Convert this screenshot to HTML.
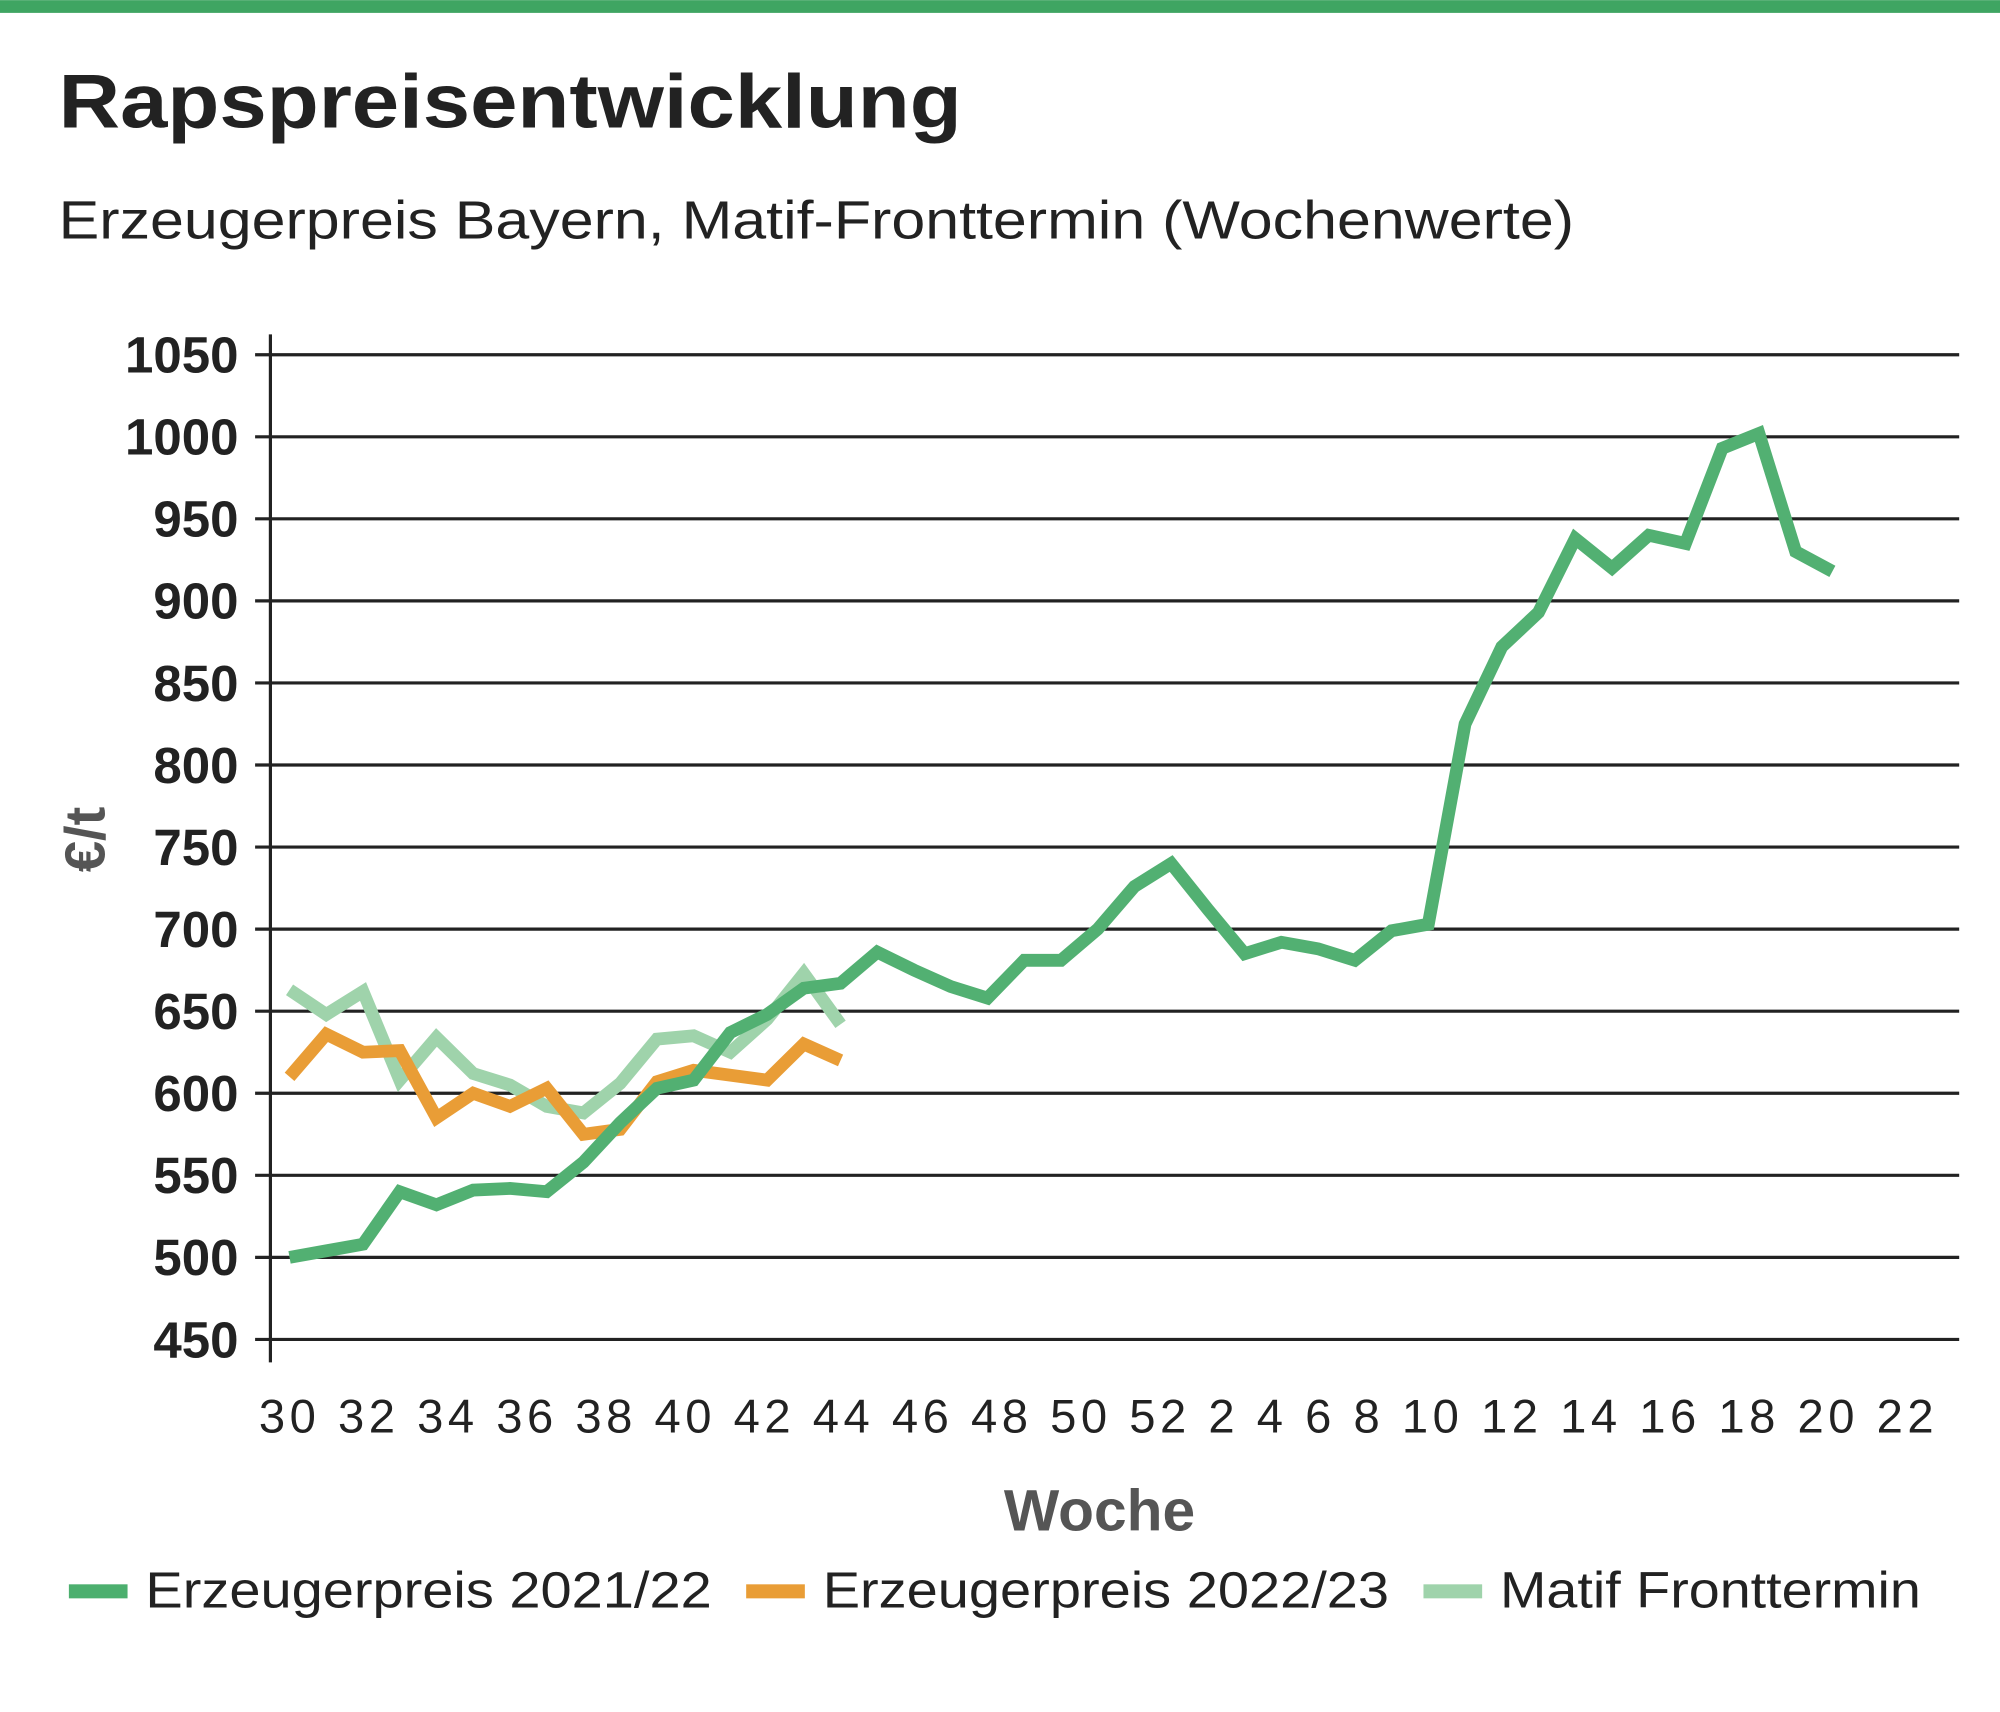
<!DOCTYPE html>
<html><head><meta charset="utf-8"><style>
html,body{margin:0;padding:0;background:#fff}
svg{display:block;font-family:"Liberation Sans",sans-serif}
</style></head><body>
<svg id="chart" width="2000" height="1712" viewBox="0 0 1568 1342" xmlns="http://www.w3.org/2000/svg">
<rect x="0" y="0" width="1568" height="10" fill="#3fa562"/>
<text x="46" y="100" font-size="60" font-weight="bold" fill="#222" textLength="708" lengthAdjust="spacingAndGlyphs">Rapspreisentwicklung</text>
<text x="46" y="187" font-size="42" fill="#222" textLength="1188" lengthAdjust="spacingAndGlyphs">Erzeugerpreis Bayern, Matif-Fronttermin (Wochenwerte)</text>
<g id="grid"></g>
<g id="yticks"></g>
<line x1="212" y1="262" x2="212" y2="1068" stroke="#222" stroke-width="2.5"/>
<text id="xlabels" x="203" y="1123" font-size="37" fill="#222" textLength="1313" lengthAdjust="spacing"></text>
<text x="862" y="1200" font-size="46" font-weight="bold" fill="#555" text-anchor="middle">Woche</text>
<text transform="translate(82,658) rotate(-90)" font-size="44" font-weight="bold" fill="#555" text-anchor="middle">€/t</text>
<g id="series"></g>
<g>
<rect x="54" y="1242" width="46" height="11" fill="#4caf6e"/>
<text x="114" y="1260" font-size="40" fill="#222" textLength="444" lengthAdjust="spacingAndGlyphs">Erzeugerpreis 2021/22</text>
<rect x="585" y="1242" width="46" height="11" fill="#e99d36"/>
<text x="645" y="1260" font-size="40" fill="#222" textLength="444" lengthAdjust="spacingAndGlyphs">Erzeugerpreis 2022/23</text>
<rect x="1116" y="1242" width="46" height="11" fill="#9fd3ab"/>
<text x="1176" y="1260" font-size="40" fill="#222" textLength="330" lengthAdjust="spacingAndGlyphs">Matif Fronttermin</text>
</g>
</svg>
<script>
const yTicks=[450,500,550,600,650,700,750,800,850,900,950,1000,1050];
const xTickLabels=["30","32","34","36","38","40","42","44","46","48","50","52","2","4","6","8","10","12","14","16","18","20","22"];
const price2122=[500,504,508,540,532,541,542,540,558,582,603,608,637,648,664,667,686,675,665,658,681,681,700,726,740,712,685,692,688,681,699,703,825,872,893,938,920,940,935,993,1002,930,918];
const price2223=[610,636,625,626,585,600,592,603,575,578,607,614,611,608,630,620];
const matif=[663,648,662,608,634,612,605,592,588,606,633,635,625,645,673,642];

const NS="http://www.w3.org/2000/svg";
const yS=v=>278+(1050-v)*(772/600);
const xS=i=>227+i*28.8;
const grid=document.getElementById('grid'),yt=document.getElementById('yticks');
yTicks.forEach(v=>{
  const l=document.createElementNS(NS,'line');
  
  
  l.setAttribute('x1',200);l.setAttribute('x2',1536);
  l.setAttribute('y1',yS(v));l.setAttribute('y2',yS(v));
  l.setAttribute('stroke','#222');l.setAttribute('stroke-width','2.5');
  grid.appendChild(l);
  const t=document.createElementNS(NS,'text');
  
  
  t.setAttribute('x',187);t.setAttribute('y',yS(v)+14);
  t.setAttribute('text-anchor','end');t.setAttribute('font-size','40');t.setAttribute('fill','#222');
  t.setAttribute('font-weight','600');
  t.textContent=v;yt.appendChild(t);
});
document.getElementById('xlabels').textContent=xTickLabels.join(' ');
const sg=document.getElementById('series');
function line(data,color,name){
  const p=document.createElementNS(NS,'polyline');
  
  
  p.setAttribute('points',data.map((v,i)=>xS(i)+','+yS(v)).join(' '));
  p.setAttribute('fill','none');p.setAttribute('stroke',color);
  p.setAttribute('stroke-width','10');p.setAttribute('stroke-linejoin','miter');p.setAttribute('stroke-miterlimit','3');
  sg.appendChild(p);
}
line(matif,'#9fd3ab','series-matif');
line(price2223,'#e99d36','series-erzeugerpreis-2022-23');
line(price2122,'#52b072','series-erzeugerpreis-2021-22');
</script>
</body></html>
